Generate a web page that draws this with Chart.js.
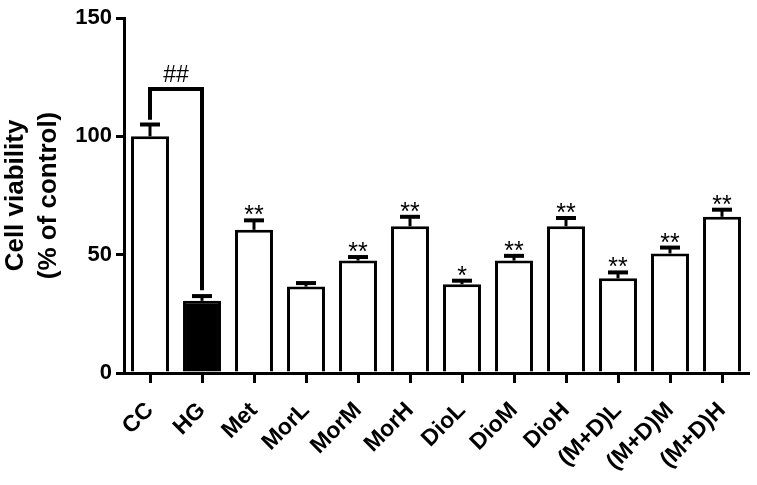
<!DOCTYPE html>
<html>
<head>
<meta charset="utf-8">
<script src="https://cdn.jsdelivr.net/npm/chart.js@4.4.1/dist/chart.umd.min.js"></script>
<style>
  html, body { margin: 0; padding: 0; background: #fff; }
  #wrap { width: 757px; height: 485px; }
</style>
</head>
<body>
<div id="wrap"><canvas id="chart" width="757" height="485"></canvas></div>
<script>
const groups = ["CC", "HG", "Met", "MorL", "MorM", "MorH", "DioL", "DioM", "DioH", "(M+D)L", "(M+D)M", "(M+D)H"];
const viability = [100, 30.5, 60.5, 36.5, 47.5, 62, 37.5, 47.5, 62, 40, 50.5, 66];
const sd = [5, 2, 4, 1.5, 1.5, 4, 1.5, 2, 3.5, 2.5, 2.5, 3];
const marks = ["", "", "**", "", "**", "**", "*", "**", "**", "**", "**", "**"];
const barFill = ["#fff", "#000", "#fff", "#fff", "#fff", "#fff", "#fff", "#fff", "#fff", "#fff", "#fff", "#fff"];

// CC vs HG bracket
const bracketFrom = 0;
const bracketTo = 1;
const bracketTop = 120;
const bracketLeftEnd = 107;
const bracketRightEnd = 35;
const bracketLabel = "##";

const yTicks = [0, 50, 100, 150];

// error bars, stars and the ## bracket
const extras = {
  id: "extras",
  afterDatasetsDraw(chart) {
    const { ctx, scales: { x, y } } = chart;
    ctx.save();
    ctx.strokeStyle = "#000";
    ctx.fillStyle = "#000";

    viability.forEach((v, i) => {
      const cx = x.getPixelForValue(i);
      const top = y.getPixelForValue(v);
      const cap = y.getPixelForValue(v + sd[i]);
      ctx.lineWidth = 3;
      ctx.beginPath();
      ctx.moveTo(cx, top);
      ctx.lineTo(cx, cap);
      ctx.stroke();
      ctx.lineWidth = 4;
      ctx.beginPath();
      ctx.moveTo(cx - 10, cap);
      ctx.lineTo(cx + 10, cap);
      ctx.stroke();

      if (marks[i]) {
        ctx.font = "25px Arial";
        ctx.textAlign = "center";
        ctx.textBaseline = "alphabetic";
        ctx.fillText(marks[i], cx, cap + 3);
      }
    });

    // bracket
    const x1 = x.getPixelForValue(bracketFrom);
    const x2 = x.getPixelForValue(bracketTo);
    const yt = y.getPixelForValue(bracketTop);
    ctx.lineWidth = 4;
    ctx.lineJoin = "miter";
    ctx.beginPath();
    ctx.moveTo(x1, y.getPixelForValue(bracketLeftEnd));
    ctx.lineTo(x1, yt);
    ctx.lineTo(x2, yt);
    ctx.lineTo(x2, y.getPixelForValue(bracketRightEnd));
    ctx.stroke();
    ctx.font = "23px Arial";
    ctx.textAlign = "center";
    ctx.textBaseline = "alphabetic";
    ctx.fillText(bracketLabel, (x1 + x2) / 2, yt - 7);

    ctx.restore();
  }
};

new Chart(document.getElementById("chart"), {
  type: "bar",
  data: {
    labels: groups,
    datasets: [{
      data: viability,
      backgroundColor: barFill,
      borderColor: "#000",
      borderWidth: 3,
      borderSkipped: "bottom",
      barPercentage: 0.73,
      categoryPercentage: 1
    }]
  },
  options: {
    responsive: false,
    animation: false,
    layout: { padding: { top: 18, right: 9, left: 0, bottom: 0 } },
    plugins: { legend: { display: false }, tooltip: { enabled: false } },
    scales: {
      x: {
        offset: true,
        afterFit(scale) { scale.height = 112; },
        border: { display: true, color: "#000", width: 3 },
        grid: { display: true, offset: false, drawOnChartArea: false, drawTicks: true, tickLength: 10, color: "#000", lineWidth: 3 },
        ticks: {
          color: "#000",
          font: { family: "Arial", size: 23, weight: "bold" },
          maxRotation: 45,
          minRotation: 45,
          padding: 14
        }
      },
      y: {
        min: 0,
        max: 150,
        afterFit(scale) { scale.width = 124; },
        afterBuildTicks(scale) { scale.ticks = yTicks.map(v => ({ value: v })); },
        border: { display: true, color: "#000", width: 3 },
        grid: { display: true, drawOnChartArea: false, drawTicks: true, tickLength: 8, color: "#000", lineWidth: 3 },
        ticks: {
          color: "#000",
          font: { family: "Arial", size: 22, weight: "bold" },
          padding: 4
        },
        title: {
          display: true,
          text: ["Cell viability", "(% of control)"],
          color: "#000",
          font: { family: "Arial", size: 26, weight: "bold", lineHeight: 1.25 },
          padding: { top: 0, bottom: 0 }
        }
      }
    }
  },
  plugins: [extras]
});
</script>
</body>
</html>
